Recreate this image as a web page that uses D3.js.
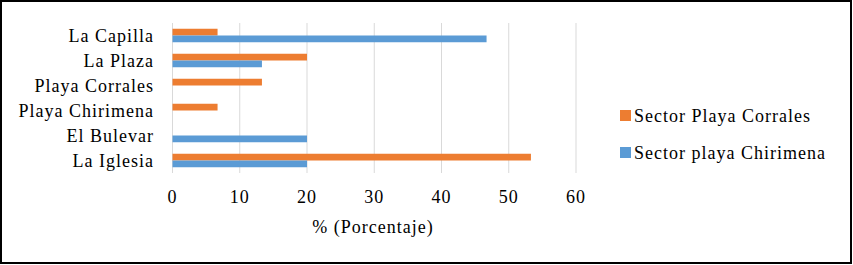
<!DOCTYPE html>
<html>
<head>
<meta charset="utf-8">
<script src="https://cdn.jsdelivr.net/npm/d3@7"></script>
<style>
  body { margin: 0; background: #fff; }
</style>
</head>
<body>
<svg id="chart" width="853" height="265" font-family="Liberation Serif"></svg>
<script>
// data
const categories = ["La Capilla", "La Plaza", "Playa Corrales", "Playa Chirimena", "El Bulevar", "La Iglesia"];
const seriesNames = ["Sector Playa Corrales", "Sector playa Chirimena"];
const corrales = [6.7, 20, 13.3, 6.7, 0, 53.3];
const chirimena = [46.7, 13.3, 0, 0, 20, 20];
const xTicks = [0, 10, 20, 30, 40, 50, 60];

const colors = ["#ED7D31", "#5B9BD5"];
const seriesValues = [corrales, chirimena];

const svg = d3.select("#chart");

// frame
svg.append("rect")
  .attr("x", 1).attr("y", 1)
  .attr("width", 850).attr("height", 262)
  .attr("fill", "none")
  .attr("stroke", "#000")
  .attr("stroke-width", 2);

const plot = { left: 172.5, right: 576, top: 23, bottom: 173 };

const x = d3.scaleLinear().domain([0, 60]).range([plot.left, plot.right]);
const y = d3.scaleBand().domain(categories).range([plot.top, plot.bottom])
  .paddingInner(0.46).paddingOuter(0.23);
const ySub = d3.scaleBand().domain([0, 1]).range([0, y.bandwidth()]);

function styleText(sel) {
  sel.attr("font-family", "Liberation Serif")
    .attr("font-size", 18)
    .attr("letter-spacing", 1)
    .attr("fill", "#000");
}

// gridlines
svg.append("g")
  .selectAll("line")
  .data(xTicks)
  .join("line")
  .attr("x1", d => x(d)).attr("x2", d => x(d))
  .attr("y1", plot.top).attr("y2", plot.bottom)
  .attr("stroke", "#d9d9d9")
  .attr("stroke-width", 1);

// x tick labels
svg.append("g")
  .selectAll("text")
  .data(xTicks)
  .join("text")
  .attr("x", d => x(d))
  .attr("y", 203)
  .attr("text-anchor", "middle")
  .call(styleText)
  .text(d => d);

// axis title
svg.append("text")
  .attr("x", 373)
  .attr("y", 233)
  .attr("text-anchor", "middle")
  .call(styleText)
  .text("% (Porcentaje)");

// category labels
svg.append("g")
  .selectAll("text")
  .data(categories)
  .join("text")
  .attr("x", 154)
  .attr("y", d => y(d) + y.bandwidth() / 2 + 6)
  .attr("text-anchor", "end")
  .call(styleText)
  .text(d => d);

// bars
const groups = svg.append("g")
  .selectAll("g")
  .data(categories)
  .join("g")
  .attr("transform", d => `translate(0,${y(d)})`);

groups.selectAll("rect")
  .data((d, i) => seriesValues.map((vals, s) => ({ s, value: vals[i] })))
  .join("rect")
  .attr("x", x(0))
  .attr("y", d => ySub(d.s))
  .attr("width", d => x(d.value) - x(0))
  .attr("height", ySub.bandwidth())
  .attr("fill", d => colors[d.s]);

// legend
const legend = svg.append("g")
  .selectAll("g")
  .data(seriesNames)
  .join("g")
  .attr("transform", (d, i) => `translate(620,${110 + i * 37})`);

legend.append("rect")
  .attr("width", 11)
  .attr("height", 11)
  .attr("fill", (d, i) => colors[i]);

legend.append("text")
  .attr("x", 14)
  .attr("y", 12)
  .call(styleText)
  .text(d => d);
</script>
</body>
</html>
